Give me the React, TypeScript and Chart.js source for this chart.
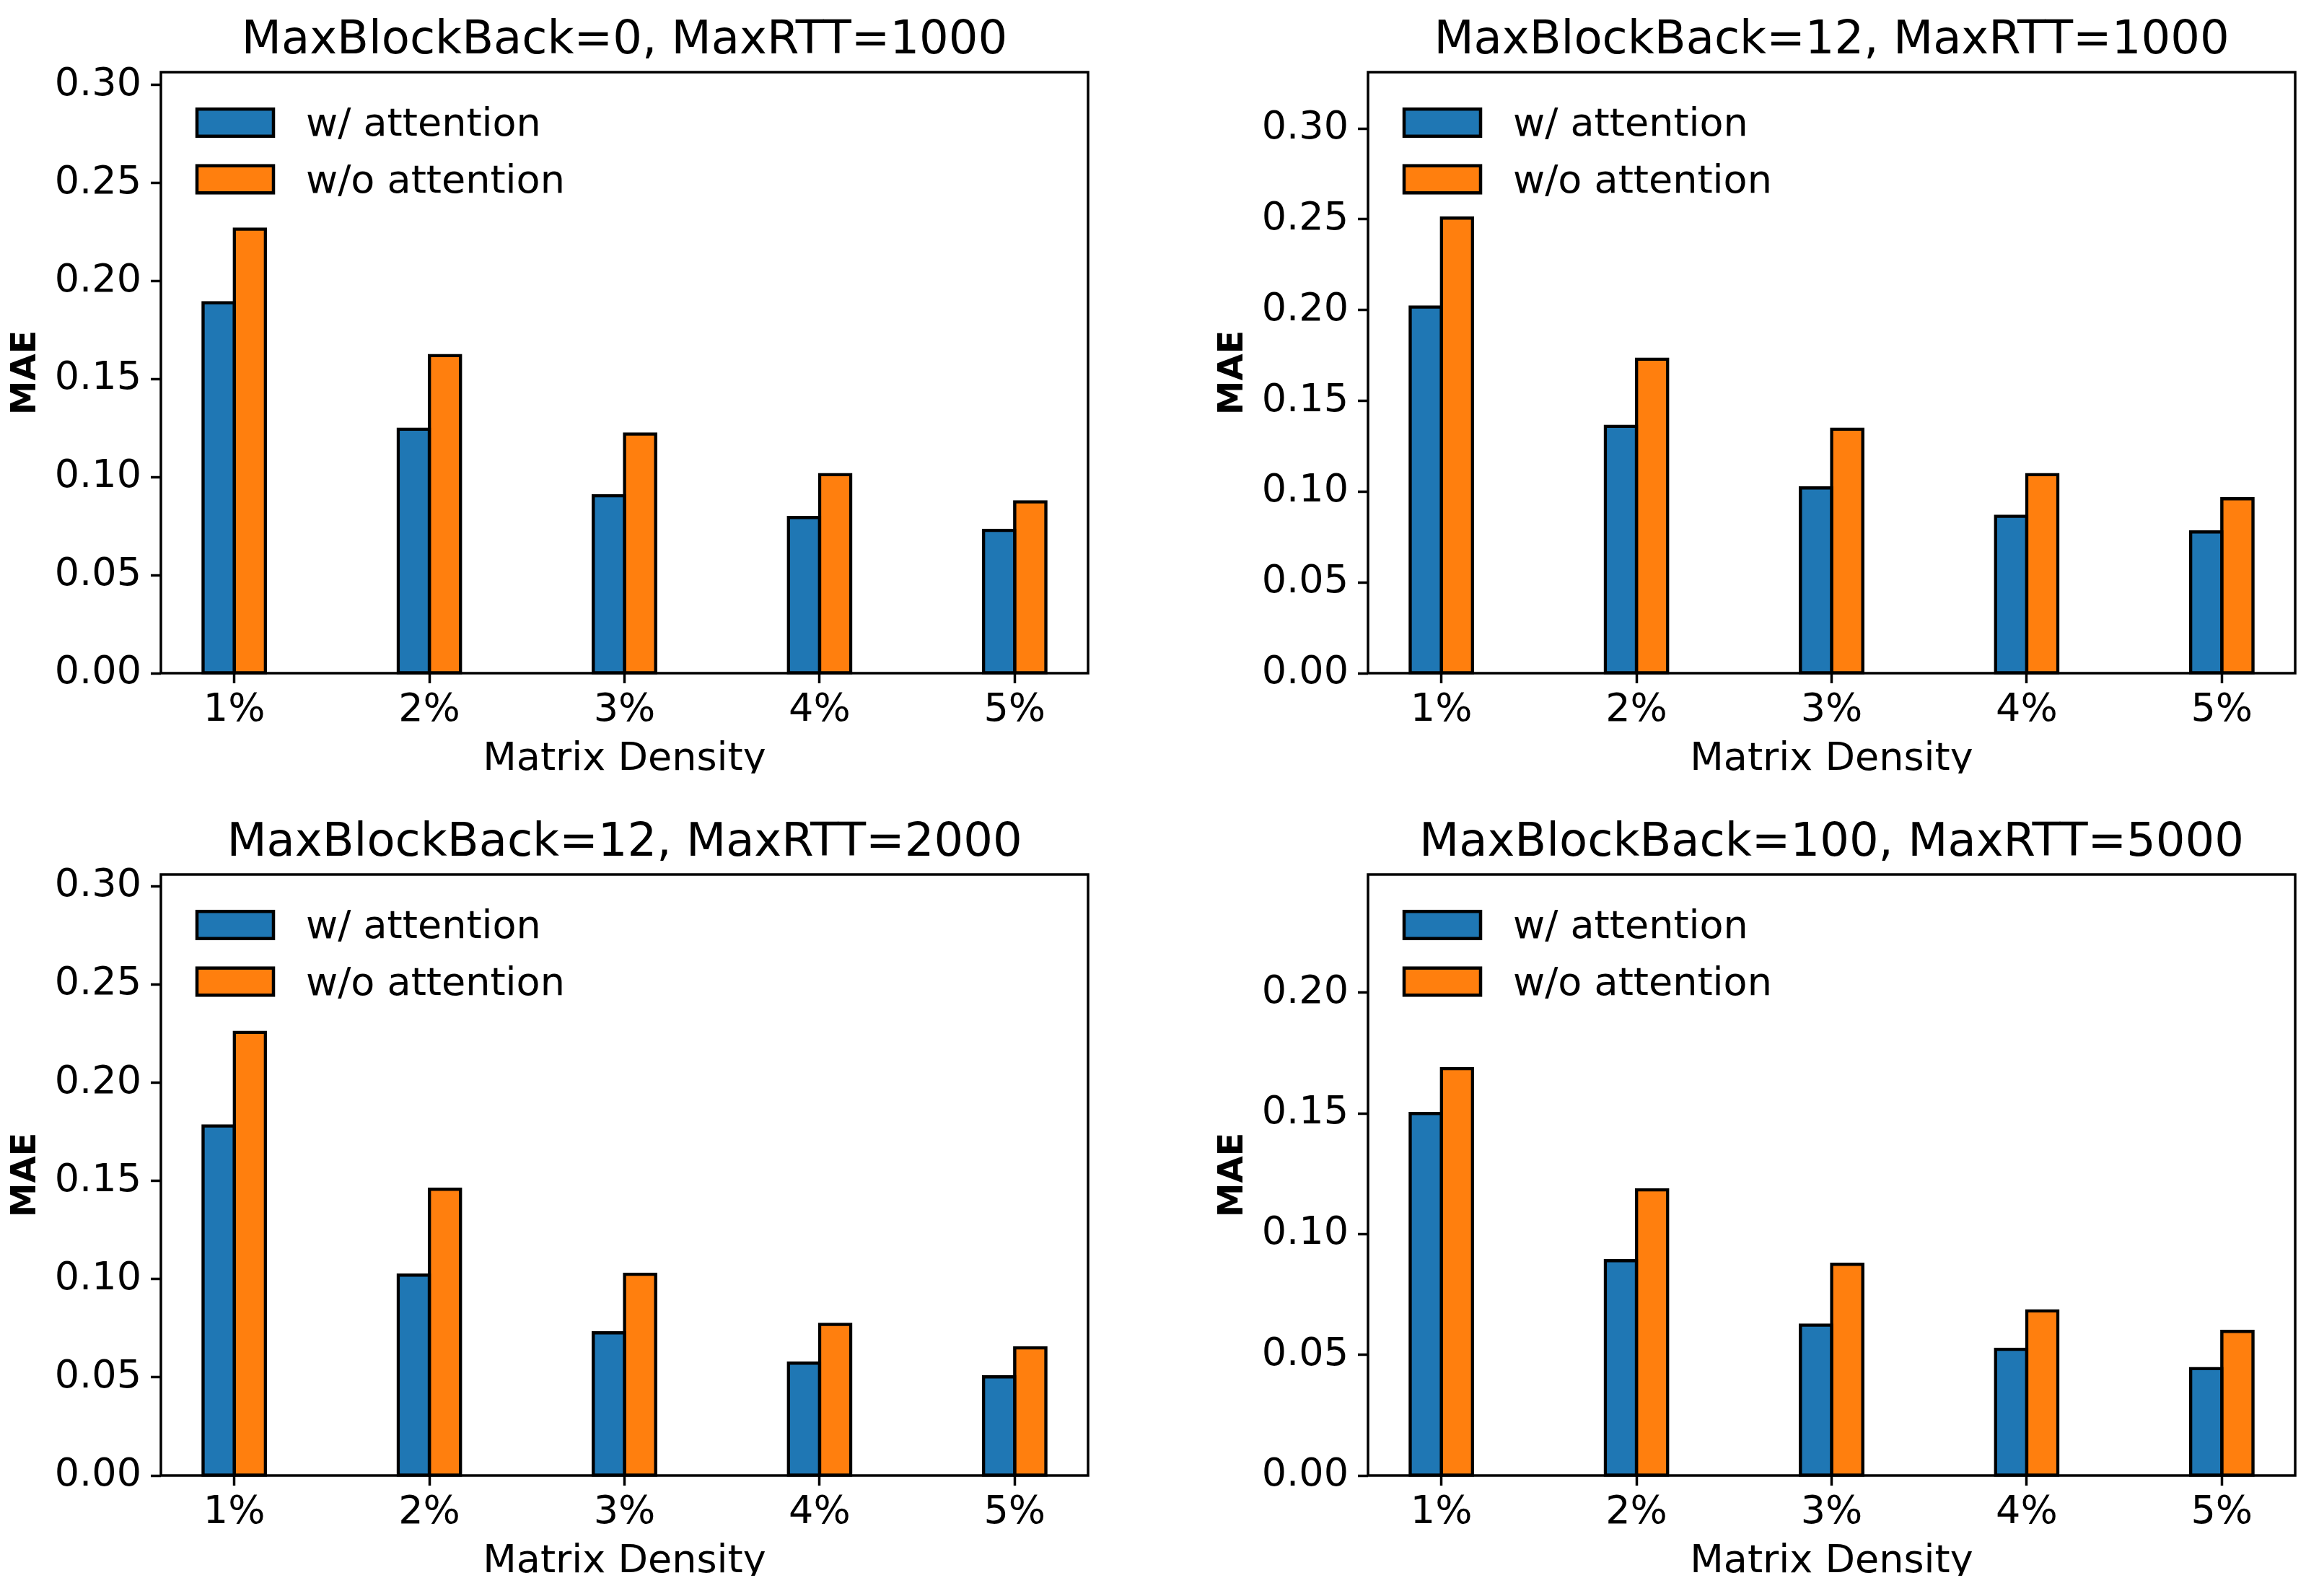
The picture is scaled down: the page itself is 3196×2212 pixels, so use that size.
import React, { useEffect, useRef } from "react";
import { Chart, registerables } from "chart.js";

Chart.register(...registerables);

// ---------- data ----------
const categories = ["1%", "2%", "3%", "4%", "5%"];
const seriesLabels = ["w/ attention", "w/o attention"];
const panelTitles = [
  "MaxBlockBack=0, MaxRTT=1000",
  "MaxBlockBack=12, MaxRTT=1000",
  "MaxBlockBack=12, MaxRTT=2000",
  "MaxBlockBack=100, MaxRTT=5000",
];
const withAttention1 = [0.189, 0.1245, 0.0905, 0.0794, 0.0729];
const withoutAttention1 = [0.2265, 0.162, 0.122, 0.1013, 0.0874];
const withAttention2 = [0.2017, 0.136, 0.102, 0.0864, 0.0778];
const withoutAttention2 = [0.2506, 0.173, 0.1344, 0.1094, 0.0961];
const withAttention3 = [0.178, 0.102, 0.0726, 0.0572, 0.0502];
const withoutAttention3 = [0.2256, 0.1457, 0.1025, 0.077, 0.065];
const withAttention4 = [0.15, 0.089, 0.0623, 0.0523, 0.0443];
const withoutAttention4 = [0.1686, 0.1184, 0.0875, 0.0682, 0.0597];
const yAxisMax = [0.3066, 0.331, 0.306, 0.249];
const yTickStep = 0.05;
const yLabel = "MAE";
const xLabel = "Matrix Density";

// ---------- layout / style ----------
const FONT = '"DejaVu Sans", "Liberation Sans", sans-serif';
const TILE_W = 1523;
const TILE_VISIBLE_H = 1072;
const CANVAS_H = 1110;
const AREA_LEFT = 223;
const AREA_BOTTOM = 933;
const AREA_RIGHT_PAD = 15;
const BLUE = "#1f77b4";
const ORANGE = "#ff7f0e";
const EDGE = 4.5;

const tiles = [
  { left: 0, top: 0 },
  { left: 1673, top: 0 },
  { left: 0, top: 1112 },
  { left: 1673, top: 1112 },
];

const framePlugin = {
  id: "mplFrame",
  afterDatasetsDraw(chart: any) {
    const { ctx, chartArea: a } = chart;
    ctx.save();
    ctx.lineWidth = 3.5;
    ctx.strokeStyle = "#000";
    ctx.strokeRect(a.left, a.top, a.right - a.left, a.bottom - a.top);
    ctx.restore();
  },
};

const legendPlugin = {
  id: "mplLegend",
  afterDraw(chart: any) {
    const { ctx, chartArea: a } = chart;
    ctx.save();
    chart.data.datasets.forEach((ds: any, i: number) => {
      const cy = a.top + 70 + i * 78.5;
      const bx = a.left + 50;
      const bw = 106;
      const bh = 37.6;
      ctx.fillStyle = ds.backgroundColor;
      ctx.fillRect(bx, cy - bh / 2, bw, bh);
      ctx.lineWidth = EDGE;
      ctx.strokeStyle = "#000";
      ctx.strokeRect(bx, cy - bh / 2, bw, bh);
      ctx.fillStyle = "#000";
      ctx.font = `54px ${FONT}`;
      ctx.textAlign = "left";
      ctx.textBaseline = "alphabetic";
      ctx.fillText(ds.label, a.left + 201, cy + 18.3);
    });
    ctx.restore();
  },
};

function Panel({ idx, w, wo }: { idx: number; w: number[]; wo: number[] }) {
  const ref = useRef<HTMLCanvasElement | null>(null);
  useEffect(() => {
    if (!ref.current) return;
    const mk = (label: string, vals: number[], color: string) => ({
      label,
      data: vals.map((v, i) => ({ x: i, y: v })),
      backgroundColor: color,
      borderColor: "#000",
      borderWidth: EDGE,
      borderSkipped: false,
      inflateAmount: EDGE / 2,
      categoryPercentage: 0.32,
      barPercentage: 1,
      clip: false,
    });
    const tickFont = { family: FONT, size: 54 };
    const chart = new Chart(ref.current, {
      type: "bar",
      data: {
        datasets: [
          mk(seriesLabels[0], w, BLUE),
          mk(seriesLabels[1], wo, ORANGE),
        ] as any,
      },
      options: {
        responsive: false,
        animation: false,
        devicePixelRatio: 1,
        events: [],
        layout: { padding: { left: 0, right: AREA_RIGHT_PAD, top: 0, bottom: 0 } },
        plugins: {
          legend: { display: false },
          tooltip: { enabled: false },
          title: {
            display: true,
            text: panelTitles[idx],
            fullSize: false,
            color: "#000",
            font: { family: FONT, size: 64, weight: "normal" },
            padding: { top: 19, bottom: 4.2 },
          },
        },
        scales: {
          x: {
            type: "linear",
            position: "bottom",
            min: -0.376,
            max: 4.376,
            offset: false,
            afterBuildTicks: (s: any) => {
              s.ticks = categories.map((_, i) => ({ value: i }));
            },
            afterFit: (s: any) => {
              s.height = CANVAS_H - AREA_BOTTOM;
            },
            ticks: {
              callback: (v: any) => categories[Math.round(Number(v))] ?? "",
              font: tickFont,
              color: "#000",
              padding: 5.5,
              maxRotation: 0,
              autoSkip: false,
            },
            grid: {
              display: true,
              offset: false,
              drawOnChartArea: false,
              drawTicks: true,
              tickLength: 14,
              tickWidth: 3.5,
              tickColor: "#000",
            },
            border: { display: false },
            title: {
              display: true,
              text: xLabel,
              color: "#000",
              font: tickFont,
              padding: { top: 0, bottom: 25 },
            },
          },
          y: {
            type: "linear",
            min: 0,
            max: yAxisMax[idx],
            afterFit: (s: any) => {
              s.width = AREA_LEFT;
            },
            ticks: {
              stepSize: yTickStep,
              includeBounds: false,
              callback: (v: any) => Number(v).toFixed(2),
              font: tickFont,
              color: "#000",
              padding: 13,
            },
            grid: {
              display: true,
              offset: false,
              drawOnChartArea: false,
              drawTicks: true,
              tickLength: 14,
              tickWidth: 3.5,
              tickColor: "#000",
            },
            border: { display: false },
            title: {
              display: true,
              text: yLabel,
              color: "#000",
              font: { family: FONT, size: 48, weight: "bold" },
              padding: { top: 7.5, bottom: 0 },
            },
          },
        },
      } as any,
      plugins: [framePlugin, legendPlugin],
    });
    return () => chart.destroy();
  }, [idx, w, wo]);

  const t = tiles[idx];
  return (
    <div
      style={{
        position: "absolute",
        left: t.left,
        top: t.top,
        width: TILE_W,
        height: TILE_VISIBLE_H,
        overflow: "hidden",
      }}
    >
      <canvas ref={ref} width={TILE_W} height={CANVAS_H} style={{ display: "block" }} />
    </div>
  );
}

export default function App() {
  return (
    <div
      style={{
        position: "absolute",
        left: 0,
        top: 0,
        width: 3196,
        height: 2212,
        background: "#fff",
        overflow: "hidden",
      }}
    >
      <Panel idx={0} w={withAttention1} wo={withoutAttention1} />
      <Panel idx={1} w={withAttention2} wo={withoutAttention2} />
      <Panel idx={2} w={withAttention3} wo={withoutAttention3} />
      <Panel idx={3} w={withAttention4} wo={withoutAttention4} />
    </div>
  );
}
